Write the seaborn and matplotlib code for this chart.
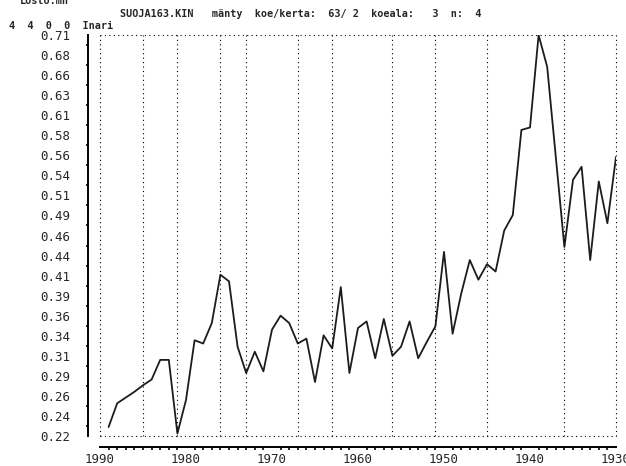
import numpy as np
import pandas as pd
import seaborn as sns
import matplotlib.pyplot as plt

# yearly values (x axis runs backwards in time)
years = list(range(1989, 1929, -1))
values = [0.231, 0.260, 0.267, 0.274, 0.282, 0.289, 0.313, 0.313, 0.223, 0.264,
          0.337, 0.333, 0.358, 0.417, 0.409, 0.329, 0.297, 0.323, 0.299, 0.350,
          0.367, 0.358, 0.333, 0.339, 0.286, 0.343, 0.327, 0.402, 0.297, 0.352,
          0.360, 0.315, 0.363, 0.318, 0.329, 0.360, 0.315, 0.335, 0.354, 0.445,
          0.345, 0.394, 0.435, 0.411, 0.430, 0.421, 0.471, 0.490, 0.594, 0.597,
          0.710, 0.671, 0.561, 0.451, 0.533, 0.549, 0.435, 0.531, 0.480, 0.561]

# dotted period lines
grid_years = [1990, 1985, 1981, 1976, 1973, 1967, 1963, 1956, 1951, 1945, 1936, 1930]

y_labels = ["0.71", "0.68", "0.66", "0.63", "0.61", "0.58", "0.56", "0.54", "0.51",
            "0.49", "0.46", "0.44", "0.41", "0.39", "0.36", "0.34", "0.31", "0.29",
            "0.26", "0.24", "0.22"]
x_ticks = [1990, 1980, 1970, 1960, 1950, 1940, 1930]

title = "SUOJA163.KIN   mänty  koe/kerta:  63/ 2  koeala:   3  n:  4"
info = "4  4  0  0  Inari"
corner = "Losto.mn"

sns.set_theme(style="white")
plt.rcParams['font.family'] = ['DejaVu Sans Mono']

W, H = 626, 466
fig = plt.figure(figsize=(W / 100, H / 100), dpi=100)
ax = fig.add_axes([100 / W, 30 / H, 516 / W, 401 / H])

df = pd.DataFrame({"year": years, "value": values})
sns.lineplot(data=df, x="year", y="value", color="#1c1c1c", lw=1.3, ax=ax)

ymin, ymax = 0.22, 0.71
ax.set_xlim(1990, 1930)
ax.set_ylim(ymin, ymax)

dots = (0, (1, 3))
ax.vlines(grid_years, ymin, ymax, colors="black", linestyles=dots, linewidth=0.8, clip_on=False)
ax.hlines([ymin, ymax], 1990, 1930, colors="black", linestyles=dots, linewidth=0.8, clip_on=False)

for s in ["top", "right"]:
    ax.spines[s].set_visible(False)
ax.spines["left"].set_position(("outward", 8.6))
ax.spines["bottom"].set_position(("outward", 8.0))
for s in ["left", "bottom"]:
    ax.spines[s].set_color("black")
    ax.spines[s].set_linewidth(1.4)

yt = np.linspace(ymax, ymin, len(y_labels))
ax.set_yticks(yt)
ax.set_yticklabels(y_labels)
ax.set_yticks((yt[:-1] + yt[1:]) / 2, minor=True)
ax.tick_params(axis="y", which="major", direction="out", length=2.5, width=1.4,
               color="black", labelsize=9, pad=10)
ax.tick_params(axis="y", which="minor", direction="out", length=1.5, width=1.2,
               color="black", left=True)
for i, t in enumerate(ax.yaxis.get_major_ticks()):
    if i % 5 == 0:
        t.tick1line.set_markersize(5)

ax.set_xticks(x_ticks)
ax.set_xticklabels([str(x) for x in x_ticks])
ax.set_xticks(range(1930, 1991), minor=True)
ax.tick_params(axis="x", which="major", direction="out", length=3.5, width=1.4,
               color="black", labelsize=9, pad=0.5)
ax.tick_params(axis="x", which="minor", direction="out", length=2, width=1.2,
               color="black", bottom=True)
ax.set_xlabel("")
ax.set_ylabel("")

fig.text(120 / W, 1 - 14 / H, title, fontsize=7.3, fontweight="bold", va="center", ha="left")
fig.text(9 / W, 1 - 26 / H, info, fontsize=7.3, fontweight="bold", va="center", ha="left")
fig.text(20 / W, 1 - 1 / H, corner, fontsize=7.3, fontweight="bold", va="center", ha="left")

fig.savefig("out.png", dpi=100)
